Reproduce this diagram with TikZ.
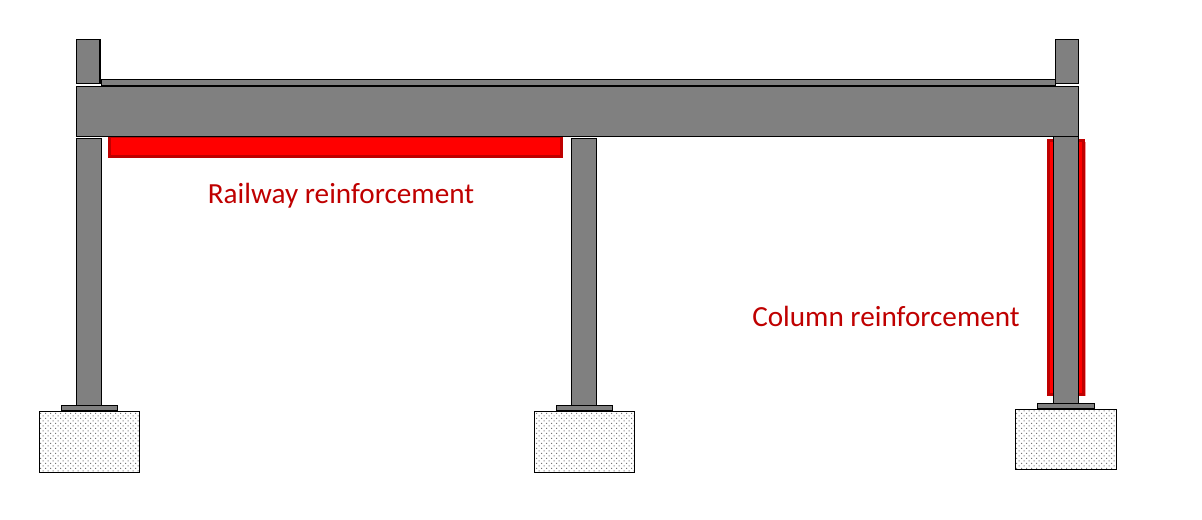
\documentclass[tikz,border=0pt]{standalone}
\usepackage{fontspec}
\usepackage{tikz}
\usetikzlibrary{patterns}
\setmainfont{Carlito}
\definecolor{concrete}{rgb}{0.5,0.5,0.5}
\definecolor{darkred}{rgb}{0.75,0.0,0.0}
\definecolor{fringe}{rgb}{0.95,0.6,0.6}
\definecolor{dotgray}{rgb}{0.45,0.45,0.45}
\pgfdeclarepatternformonly{gravel}{\pgfqpoint{0pt}{0pt}}{\pgfqpoint{4pt}{4pt}}{\pgfqpoint{4pt}{4pt}}{
  \pgfpathrectangle{\pgfqpoint{0.6pt}{0.6pt}}{\pgfqpoint{0.8pt}{0.8pt}}
  \pgfpathrectangle{\pgfqpoint{2.6pt}{2.6pt}}{\pgfqpoint{0.8pt}{0.8pt}}
  \pgfusepath{fill}}

\begin{document}
\begin{tikzpicture}[x=0.75pt,y=-0.75pt,
  member/.style={draw=black,fill=concrete,line width=0.9pt},
  footing/.style={draw=black,line width=0.9pt,pattern=gravel,pattern color=dotgray},
  strengthen/.style={draw=darkred,fill=red,line width=2pt},
  caption/.style={text=darkred,font=\fontsize{21.9pt}{26pt}\selectfont,inner sep=0pt}]
\useasboundingbox (0,0) rectangle (1202,519);
% red plates first, the right column covers its plate
\draw[strengthen] (109.5,137) rectangle (561.5,156.5);
\fill[fringe] (1060,142) rectangle (1086,396);
\draw[strengthen] (1048.5,140.5) rectangle (1083.5,394.5);
% stubs, deck and beam
\draw[member] (101.5,79.5) rectangle (1055.5,86);
\draw[member] (76.5,39.5) rectangle (100,83.5);
\draw[member] (1055.5,39.5) rectangle (1078.5,83.5);
\draw[member] (76.5,86.5) rectangle (1078.5,136.5);
% columns
\draw[member] (76.5,138.5) rectangle (101.5,405.5);
\draw[member] (571.5,138.5) rectangle (596.5,405.5);
\draw[member] (1053.5,136.5) rectangle (1078.5,403.5);
% base plates
\draw[member] (61.5,405.5) rectangle (117.5,410.5);
\draw[member] (556.5,405.5) rectangle (612.5,410.5);
\draw[member] (1037.5,403.5) rectangle (1094.5,409);
% footings
\draw[footing] (39.5,411.5) rectangle (139.5,472.5);
\draw[footing] (534.5,411.5) rectangle (634.5,472.5);
\draw[footing] (1015.5,409.5) rectangle (1116.5,469.5);
% labels
\node[caption] (railway) at (341,196) {Railway reinforcement};
\node[caption] (column) at (886,316) {Column reinforcement};
\end{tikzpicture}
\end{document}
